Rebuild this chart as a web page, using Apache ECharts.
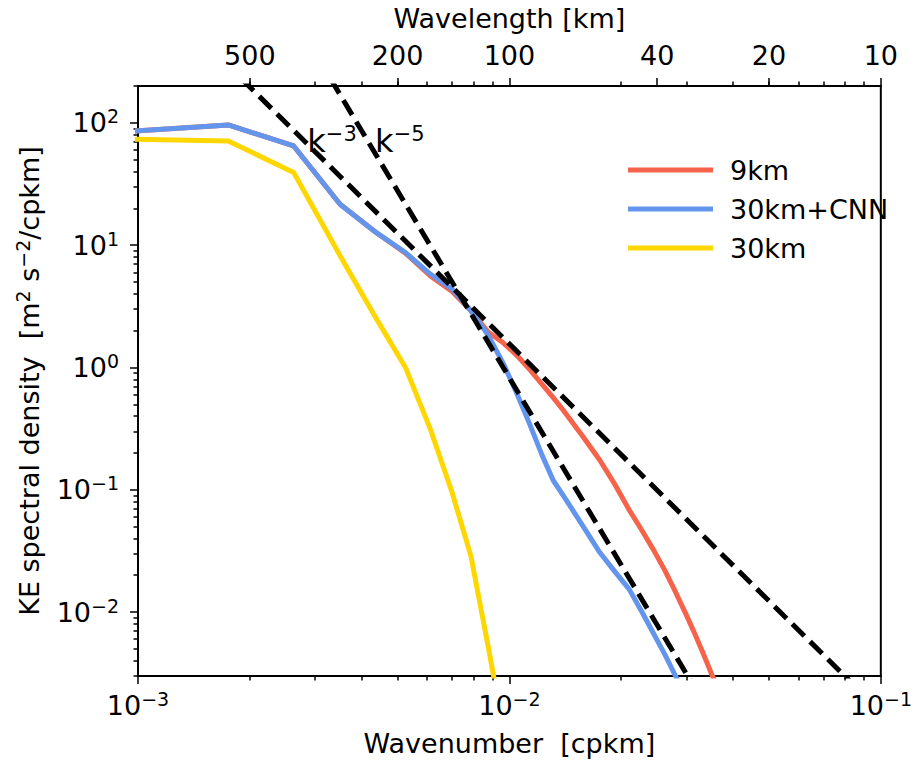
<!DOCTYPE html>
<html><head><meta charset="utf-8">
<script src="https://cdn.jsdelivr.net/npm/echarts@6/dist/echarts.min.js"></script>
<style>html,body{margin:0;padding:0;background:#fff}#c{width:915px;height:767px}</style>
</head><body><div id="c"></div>
<script>
// ---- data ----
const wavenumber = [0.000875, 0.00175, 0.002625, 0.0035, 0.004375, 0.00525, 0.006125, 0.007, 0.007875,
  0.00875, 0.009625, 0.0105, 0.011375, 0.01225, 0.013125, 0.014, 0.01575, 0.0175, 0.01925, 0.021,
  0.02275, 0.0245, 0.02625, 0.028, 0.02975, 0.0315, 0.03325, 0.035, 0.03675];
const ke9km = [83.6, 96, 64.7, 21.6, 12.7, 8.6, 5.6, 4.2, 2.9,
  1.96, 1.59, 1.245, 0.95, 0.726, 0.566, 0.442, 0.274, 0.175, 0.11, 0.0686,
  0.0464, 0.0318, 0.0217, 0.0146, 0.00989, 0.00673, 0.00459, 0.00313, 0.00224];
const ke30kmCNN = [83.6, 96, 64.7, 21.6, 12.7, 8.7, 5.8, 4.38, 2.91,
  1.85, 1.08, 0.60, 0.336, 0.191, 0.119, 0.0887, 0.0509, 0.0308, 0.0213, 0.0154,
  0.0100, 0.00658, 0.00447, 0.0030, 0.0021, null, null, null, null];
const ke30km = [74, 71.1, 39.2, 8.2, 2.53, 1.0, 0.313, 0.0962, 0.0288,
  0.0054, 0.00112, null, null, null, null, null, null, null, null, null,
  null, null, null, null, null, null, null, null, null];
const slopeM3K = [0.0019, 0.084];
const slopeM3E = [229, 0.00259];
const slopeM5K = [0.0033, 0.0315];
const slopeM5E = [229, 0.00242];
const slopeLabels = ['k{s|\u22123}', 'k{s|\u22125}'];
const slopeLabelK = [0.00333, 0.00507];
const slopeLabelE = [71, 71];
const seriesNames = ['9km', '30km+CNN', '30km'];
const xMajorTicks = [0.001, 0.01, 0.1];
const xMinorTicks = [0.002,0.003,0.004,0.005,0.006,0.007,0.008,0.009,0.02,0.03,0.04,0.05,0.06,0.07,0.08,0.09];
const wavelengthTicks = [500, 200, 100, 40, 20, 10];
const yMajorTicks = [0.01, 0.1, 1, 10, 100];
const yMinorTicks = [0.003,0.004,0.005,0.006,0.007,0.008,0.009,0.02,0.03,0.04,0.05,0.06,0.07,0.08,0.09,
  0.2,0.3,0.4,0.5,0.6,0.7,0.8,0.9,2,3,4,5,6,7,8,9,20,30,40,50,60,70,80,90,200];

// ---- chart ----
const FONT = 'DejaVu Sans';
const FS = 27;
const zip = (xs, ys) => xs.map((x, i) => [x, ys[i]]).filter(p => p[1] !== null);
const topK = wavelengthTicks.map(l => 1 / l);
const sup = v => { const e = Math.round(Math.log10(v)); return '{b|10}{s|' + (e < 0 ? '\u2212' + (-e) : e) + '}'; };
const richPow = {
  b: {fontSize: FS, lineHeight: 32, fontFamily: FONT, color: '#000'},
  s: {fontSize: 19, lineHeight: 15, verticalAlign: 'top', fontFamily: FONT, color: '#000'}
};
const black = '#000';
const chart = echarts.init(document.getElementById('c'), null, {renderer: 'svg'});
const minorAxis = (pos, vals, extra) => Object.assign({
  type: 'log', position: pos, axisLine: {show: false}, splitLine: {show: false},
  axisLabel: {show: false}, axisTick: {show: true, length: 4.5, lineStyle: {color: black, width: 1.5}, customValues: vals}
}, extra);

chart.setOption({
  animation: false,
  backgroundColor: '#fff',
  grid: {left: 138, right: 31, top: 85, bottom: 91, show: true, borderColor: black, borderWidth: 2, containLabel: false},
  xAxis: [
    {type: 'log', min: 0.001, max: 0.1, position: 'bottom', splitLine: {show: false},
     axisLine: {lineStyle: {color: black, width: 2}},
     axisTick: {length: 8, lineStyle: {color: black, width: 1.5}, customValues: xMajorTicks},
     axisLabel: {customValues: xMajorTicks, formatter: sup, rich: richPow, margin: 13},
     name: 'Wavenumber  [cpkm]', nameLocation: 'middle', nameGap: 54,
     nameTextStyle: {fontSize: FS, fontFamily: FONT, color: black}},
    {type: 'log', min: 0.001, max: 0.1, position: 'top', splitLine: {show: false},
     axisLine: {lineStyle: {color: black, width: 2}},
     axisTick: {length: 8, lineStyle: {color: black, width: 1.5}, customValues: topK},
     axisLabel: {customValues: topK, formatter: v => String(Math.round(1 / v)), fontSize: FS, fontFamily: FONT, color: black, margin: 17},
     name: 'Wavelength [km]', nameLocation: 'middle', nameGap: 54,
     nameTextStyle: {fontSize: FS, fontFamily: FONT, color: black}},
    minorAxis('bottom', xMinorTicks, {min: 0.001, max: 0.1}),
    minorAxis('top', xMinorTicks, {min: 0.001, max: 0.1})
  ],
  yAxis: [
    {type: 'log', min: 0.003, max: 200, position: 'left', splitLine: {show: false},
     axisLine: {lineStyle: {color: black, width: 2}},
     axisTick: {length: 8, lineStyle: {color: black, width: 1.5}, customValues: yMajorTicks},
     axisLabel: {customValues: yMajorTicks, formatter: sup, rich: richPow, margin: 19},
     name: 'KE spectral density  [m{s|2} s{s|\u22122}/cpkm]', nameLocation: 'middle', nameGap: 87,
     nameTextStyle: {fontSize: FS, fontFamily: FONT, color: black, lineHeight: 32,
       rich: {s: {fontSize: 19, lineHeight: 15, verticalAlign: 'top', fontFamily: FONT, color: black}}}},
    minorAxis('left', yMinorTicks, {min: 0.003, max: 200})
  ],
  legend: {
    orient: 'vertical', left: 623, top: 150, data: seriesNames, icon: 'rect',
    itemWidth: 85, itemHeight: 5, itemGap: 9,
    textStyle: {fontSize: FS, fontFamily: FONT, color: black, lineHeight: 30, padding: [0, 0, 0, 12]}
  },
  series: [
    {name: seriesNames[0], type: 'line', data: zip(wavenumber, ke9km), showSymbol: false, color: '#F5644A',
     lineStyle: {width: 5, color: '#F5644A'}},
    {name: seriesNames[1], type: 'line', data: zip(wavenumber, ke30kmCNN), showSymbol: false, color: '#6495ED',
     lineStyle: {width: 5, color: '#6495ED'}},
    {name: seriesNames[2], type: 'line', data: zip(wavenumber, ke30km), showSymbol: false, color: '#FFD700',
     lineStyle: {width: 5, color: '#FFD700'}},
    {name: 'k-3', type: 'line', data: zip(slopeM3K, slopeM3E), showSymbol: false, silent: true,
     lineStyle: {width: 5, color: black, type: [17, 8]}},
    {name: 'k-5', type: 'line', data: zip(slopeM5K, slopeM5E), showSymbol: false, silent: true,
     lineStyle: {width: 5, color: black, type: [17, 8]}},
    {name: 'slopes', type: 'scatter', symbolSize: 0, silent: true, z: 1,
     itemStyle: {opacity: 1},
     data: slopeLabelK.map((k, i) => ({value: [k, slopeLabelE[i]], txt: slopeLabels[i]})),
     label: {show: true, position: 'inside', formatter: p => p.data.txt, opacity: 1,
       fontSize: 32, fontFamily: FONT, color: black, lineHeight: 36, textBorderWidth: 0,
       rich: {s: {fontSize: 21, lineHeight: 18, verticalAlign: 'top', fontFamily: FONT, color: black, textBorderWidth: 0}}}}
  ]
});
</script></body></html>
